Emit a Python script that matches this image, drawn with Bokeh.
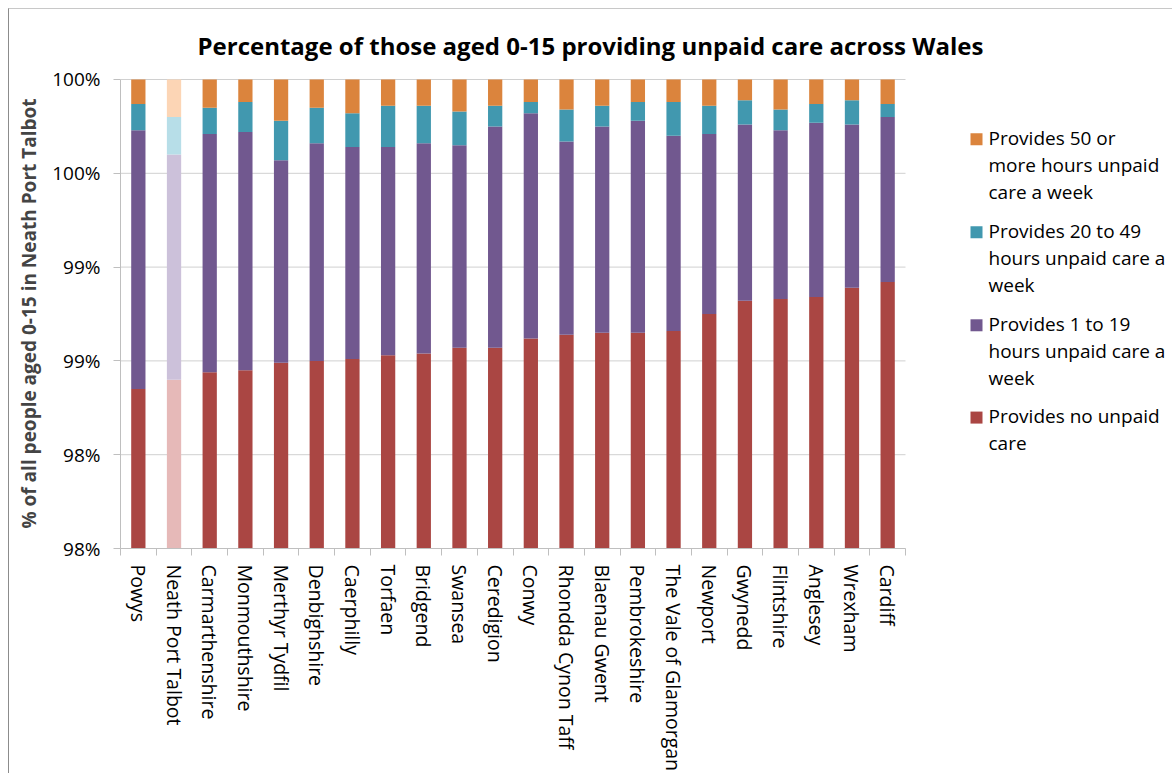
from bokeh.plotting import figure
from bokeh.models import Range1d, FixedTicker, ColumnDataSource
from bokeh.core.properties import value
from bokeh.embed import file_html
from bokeh.resources import INLINE

areas = ["Powys", "Neath Port Talbot", "Carmarthenshire", "Monmouthshire", "Merthyr Tydfil",
         "Denbighshire", "Caerphilly", "Torfaen", "Bridgend", "Swansea", "Ceredigion", "Conwy",
         "Rhondda Cynon Taff", "Blaenau Gwent", "Pembrokeshire", "The Vale of Glamorgan",
         "Newport", "Gwynedd", "Flintshire", "Anglesey", "Wrexham", "Cardiff"]

no_care = [98.35, 98.40, 98.44, 98.45, 98.49, 98.50, 98.51, 98.53, 98.54, 98.57, 98.57, 98.62,
           98.64, 98.65, 98.65, 98.66, 98.75, 98.82, 98.83, 98.84, 98.89, 98.92]
care_1_19 = [1.38, 1.20, 1.27, 1.27, 1.08, 1.16, 1.13, 1.11, 1.12, 1.08, 1.18, 1.20,
             1.03, 1.10, 1.13, 1.04, 0.96, 0.94, 0.90, 0.93, 0.87, 0.88]
care_20_49 = [0.14, 0.20, 0.14, 0.16, 0.21, 0.19, 0.18, 0.22, 0.20, 0.18, 0.11, 0.06,
              0.17, 0.11, 0.10, 0.18, 0.15, 0.13, 0.11, 0.10, 0.13, 0.07]
care_50_plus = [0.13, 0.20, 0.15, 0.12, 0.22, 0.15, 0.18, 0.14, 0.14, 0.17, 0.14, 0.12,
                0.16, 0.14, 0.12, 0.12, 0.14, 0.11, 0.16, 0.13, 0.11, 0.13]

series_names = ["Provides no unpaid\ncare",
                "Provides 1 to 19\nhours unpaid care a\nweek",
                "Provides 20 to 49\nhours unpaid care a\nweek",
                "Provides 50 or\nmore hours unpaid\ncare a week"]
series_colors = ["#AA4643", "#71588F", "#4198AF", "#DB843D"]
highlight_colors = ["#E6B9B8", "#CCC1DA", "#B7DEE8", "#FCD5B5"]
highlight_area = "Neath Port Talbot"

y_ticks = [97.5, 98.0, 98.5, 99.0, 99.5, 100.0]
y_tick_labels = ["98%", "98%", "99%", "99%", "100%", "100%"]

title_text = "Percentage of those aged 0-15 providing unpaid care across Wales"
y_label = "% of all people aged 0-15 in Neath Port Talbot"

FONT = "Open Sans"
GRID = "#D0D0D0"
AXIS = "#BFBFBF"

# ---- layout (page pixels) ----
FIG_X0, FIG_Y0, BORDER = 8, 8, 1
FIG_W, FIG_H = 1164, 765
FRAME_L, FRAME_T, FRAME_B = 120, 79, 549      # frame edges on the page (100% line at 79)
FRAME_R = FIG_X0 + BORDER + FIG_W
BARS_R = 905                                  # right end of the category axis
n = len(areas)
px_per_cat = (BARS_R - FRAME_L) / n
x_end = -0.5 + (FRAME_R - FRAME_L) / px_per_cat

p = figure(width=FIG_W, height=FIG_H, x_range=Range1d(-0.5, x_end),
           y_range=Range1d(97.5, 100.0), output_backend="svg", toolbar_location=None,
           min_border_left=FRAME_L - FIG_X0 - BORDER, min_border_right=0,
           min_border_top=FRAME_T - FIG_Y0 - BORDER - 1,
           min_border_bottom=FIG_Y0 + BORDER + FIG_H - FRAME_B,
           margin=(FIG_Y0, 0, 0, FIG_X0),
           styles={"border-left": "1px solid #8C8C8C", "border-top": "1px solid #C8C8C8"})
# keep the top gridline fully visible: extend the range by one pixel
p.y_range.end = 100.0 + 2.5 / (FRAME_B - FRAME_T)
# pixel-space ranges for the legend block
p.extra_x_ranges = {"px": Range1d(FRAME_L, FRAME_R)}
p.extra_y_ranges = {"px": Range1d(FRAME_B, FRAME_T - 1)}

xs = list(range(n))
series = [no_care, care_1_19, care_20_49, care_50_plus]

# horizontal gridlines over the category span only
p.segment(x0=[-0.5] * len(y_ticks), x1=[n - 0.5] * len(y_ticks), y0=y_ticks, y1=y_ticks,
          line_color=GRID, line_width=1)

data = {"x": xs}
bottom = [0.0] * n
for i, s in enumerate(series):
    top = [b + v for b, v in zip(bottom, s)]
    data[f"b{i}"] = bottom
    data[f"t{i}"] = top
    data[f"c{i}"] = [highlight_colors[i] if a == highlight_area else series_colors[i] for a in areas]
    bottom = top
src = ColumnDataSource(data)

for i in range(len(series)):
    p.vbar(x="x", bottom=f"b{i}", top=f"t{i}", width=0.4, source=src,
           fill_color=f"c{i}", line_color=None)

# title
p.title.text = title_text
p.title.text_font = FONT
p.title.text_font_size = "24px"
p.title.text_font_style = "bold"
p.title.align = "left"
p.title.vertical_align = "top"
p.title.offset = 77
p.title.standoff = 30
p.title.text_color = "#000000"

# x axis
p.xaxis.bounds = (-0.5, n - 0.5)
p.xaxis.ticker = FixedTicker(ticks=xs, minor_ticks=[i - 0.5 for i in range(n + 1)])
p.xaxis.major_label_overrides = {i: a for i, a in enumerate(areas)}
p.xaxis.major_label_orientation = "vertical"
p.xaxis.major_tick_out = 0
p.xaxis.major_tick_in = 0
p.xaxis.minor_tick_out = 7
p.xaxis.minor_tick_in = 0
p.xaxis.minor_tick_line_color = AXIS
p.xaxis.axis_line_color = AXIS
p.xaxis.major_label_text_font = FONT
p.xaxis.major_label_text_font_size = "19.5px"
p.xaxis.major_label_text_color = "#000000"
p.xaxis.major_label_standoff = 9

# y axis
p.yaxis.bounds = (97.5, 100.0)
p.yaxis.ticker = FixedTicker(ticks=y_ticks, minor_ticks=[])
p.yaxis.major_label_overrides = {t: l for t, l in zip(y_ticks, y_tick_labels)}
p.yaxis.major_tick_out = 7
p.yaxis.major_tick_in = 0
p.yaxis.major_tick_line_color = AXIS
p.yaxis.axis_line_color = AXIS
p.yaxis.major_label_text_font = FONT
p.yaxis.major_label_text_font_size = "19px"
p.yaxis.major_label_text_color = "#000000"
p.yaxis.major_label_standoff = 13
p.yaxis.axis_label = y_label
p.yaxis.axis_label_text_font = FONT
p.yaxis.axis_label_text_font_size = "19px"
p.yaxis.axis_label_text_font_style = "bold"
p.yaxis.axis_label_standoff = 7

p.xgrid.grid_line_color = None
p.ygrid.grid_line_color = None
p.outline_line_color = None

# legend block (top to bottom: 50+, 20-49, 1-19, none)
order = [3, 2, 1, 0]
leg_rows = [138.8, 232.0, 325.3, 417.8]        # first-line centre of each entry (page px)
leg_src = ColumnDataSource({
    "sx": [976] * 4,
    "tx": [988] * 4,
    "sy": leg_rows,
    "ty": [r - 14.5 for r in leg_rows],
    "color": [series_colors[i] for i in order],
    "label": [series_names[i] for i in order],
})
p.rect(x="sx", y="sy", width=12, height=12, width_units="screen", height_units="screen",
       fill_color="color", line_color=None, source=leg_src,
       x_range_name="px", y_range_name="px")
p.text(x="tx", y="ty", text="label", source=leg_src, text_font=value(FONT),
       text_font_size="19px", text_baseline="top", text_align="left",
       text_line_height=1.05, text_color="#000000",
       x_range_name="px", y_range_name="px")

open("out.html", "w").write(file_html(p, INLINE))
